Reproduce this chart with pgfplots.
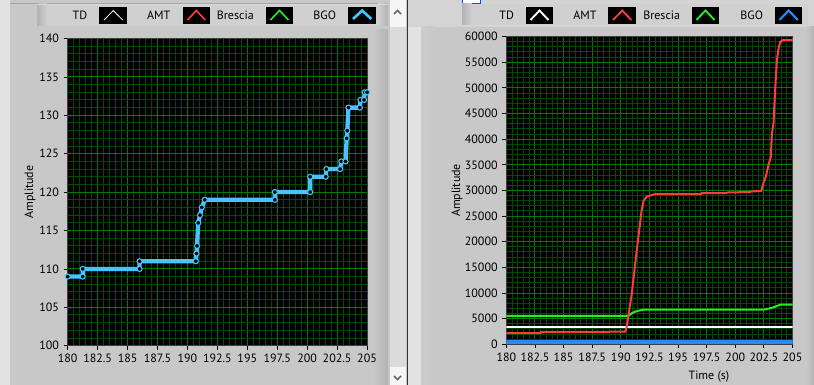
\documentclass[border=0pt]{standalone}
\usepackage{fontspec}
\setmainfont{PT Sans}
\usepackage{pgfplots}
\pgfplotsset{compat=1.18}
\definecolor{panel}{RGB}{200,200,200}
\definecolor{lightp}{RGB}{226,226,226}
\definecolor{legbg}{RGB}{208,208,208}
\definecolor{gmaj}{RGB}{0,125,0}
\definecolor{gmin}{RGB}{0,75,0}
\definecolor{bgoL}{RGB}{70,196,255}
\definecolor{bgoR}{RGB}{35,140,245}
\definecolor{amt}{RGB}{255,60,60}
\definecolor{bre}{RGB}{40,235,40}
\newcommand\fs{\fontsize{9}{10}\selectfont}
\pgfplotsset{lv/.style={
  scale only axis,
  axis background/.style={fill=black},
  grid=both,
  grid style={draw=gmin,line width=0.75pt},
  minor grid style={draw=gmin,line width=0.75pt},
  major grid style={draw=gmaj,line width=0.75pt},
  minor x tick num=4, minor y tick num=4,
  xmin=180, xmax=205,
  xtick={180,182.5,185,187.5,190,192.5,195,197.5,200,202.5,205},
  axis line style={draw=black!75},
  tick align=outside, tick pos=left,
  major tick length=3pt, minor tick length=0pt,
  tick style={black,line width=0.6pt},
  every tick label/.append style={font=\fs},
  /pgf/number format/assume math mode=true,
  label style={font=\fs},
  scaled ticks=false,
  yticklabel style={/pgf/number format/fixed,/pgf/number format/1000 sep={}},
  xticklabel style={/pgf/number format/fixed,/pgf/number format/1000 sep={}},
  clip=true,
}}
\begin{document}
\begin{tikzpicture}
\useasboundingbox (0,0) rectangle (610.5pt,-288.75pt);
\begin{scope}[x=0.75pt,y=-0.75pt]
 \fill[panel] (0,0) rectangle (814,385);
 % left panel decorations
 \fill[lightp] (0,0) rectangle (10,385);
 \fill[black!35] (10,3) rectangle (388,4);
 \fill[left color=panel,right color=black!30] (374,30) rectangle (388,385);
 % legend left
 \fill[legbg] (37,4) rectangle (388,26);
 \fill[left color=black!30,right color=legbg] (37,4) rectangle (47,26);
 \fill[left color=legbg,right color=black!30] (378,4) rectangle (388,26);
 \draw[white!85!black] (37,4) -- (388,4);
 \node[font=\fs] at (80,15) {TD};
 \fill[black] (99.3,6.7) rectangle (127.3,24);
 \draw[white,line width=0.6pt] (104,20) -- (113.3,10.5) -- (122.6,20);
 \node[font=\fs] at (158.8,15) {AMT};
 \fill[black] (182.7,6.7) rectangle (210,24);
 \draw[amt,line width=1.2pt] (187.5,20) -- (196.3,10.5) -- (205.2,20);
 \node[font=\fs] at (235.3,15) {Brescia};
 \fill[black] (265.7,6.7) rectangle (293.3,24);
 \draw[bre,line width=1.2pt] (270.5,20) -- (279.5,10.5) -- (288.5,20);
 \node[font=\fs] at (324.7,15) {BGO};
 \fill[black] (348.3,6.7) rectangle (376,24);
 \draw[bgoL,line width=2pt] (353,19) -- (362.2,10.5) -- (371.3,19);
 % scrollbar
 \fill[black!4] (390,0) rectangle (406,27);
 \fill[black!14] (390,27) rectangle (406,367);
 \fill[black!4] (390,367) rectangle (406,385);
 \draw[black!60,line width=1.2pt] (394,14) -- (397.5,10.5) -- (401,14);
 \draw[black!60,line width=1.2pt] (394,376) -- (397.5,379.5) -- (401,376);
 \fill[black!80] (406.5,0) rectangle (408.3,385);
 % right panel decorations
 \fill[lightp] (408.3,0) rectangle (421,385);
 \fill[black!17] (408.3,0) rectangle (814,27);
 \fill[white] (462,0) rectangle (480,3);
 \draw[blue!70!cyan,line width=0.6pt] (462,-1) -- (462,3) -- (480,3) -- (480,-1);
 \fill[left color=black!20,right color=panel] (421,27) rectangle (434,385);
 \fill[left color=panel,right color=black!30] (806,27) rectangle (814,385);
 % legend right
 \fill[legbg] (462,4) rectangle (808,25);
 \fill[left color=black!30,right color=legbg] (462,4) rectangle (472,25);
 \node[font=\fs] at (506.7,15) {TD};
 \fill[black] (525.7,6.7) rectangle (553.3,24);
 \draw[white,line width=1.4pt] (530.5,20) -- (539.5,10.5) -- (548.5,20);
 \node[font=\fs] at (585,15) {AMT};
 \fill[black] (608.3,6.7) rectangle (636,24);
 \draw[amt,line width=1.4pt] (613,20) -- (622.2,10.5) -- (631.3,20);
 \node[font=\fs] at (661.7,15) {Brescia};
 \fill[black] (691.7,6.7) rectangle (719.3,24);
 \draw[bre,line width=1.4pt] (696.5,20) -- (705.5,10.5) -- (714.5,20);
 \node[font=\fs] at (751.7,15) {BGO};
 \fill[black] (775,6.7) rectangle (802.3,24);
 \draw[bgoR,line width=1.6pt] (779.5,20) -- (788.7,10.5) -- (797.8,20);
\end{scope}

% ---------------- left graph ----------------
\begin{axis}[lv,
  at={(50.78pt,-259.28pt)}, anchor=south west,
  width=224.5pt, height=230.4pt,
  ymin=100, ymax=140, ytick={100,105,...,140},
  ylabel={Amplitude},
  ylabel style={at={(axis description cs:-0.126,0.5)},anchor=center},
]
\addplot[bgoL,line width=3.2pt,mark=*,mark size=1.9pt,
  mark options={fill=black,draw=bgoL,line width=0.8pt}] coordinates {
(180,109) (181.25,109) (181.25,110) (186.0,110) (186.0,111) (190.7,111)
(190.75,112) (190.8,113) (190.9,116) (191.05,117) (191.2,118) (191.45,119) (197.3,119)
(197.3,120) (200.25,120) (200.25,122) (201.55,122) (201.6,123) (202.75,123)
(202.85,124) (203.2,124) (203.3,127) (203.35,128) (203.45,131) (204.4,131)
(204.45,132) (204.75,132) (204.8,133) (205,133)};
\end{axis}

% ---------------- right graph ----------------
\begin{axis}[lv,
  at={(379.73pt,-258.23pt)}, anchor=south west,
  width=214.65pt, height=230.78pt,
  ymin=0, ymax=60000, ytick={0,5000,...,60000},
  ylabel={Amplitude},
  ylabel style={at={(axis description cs:-0.172,0.5)},anchor=center},
  xlabel={Time (s)},
  xlabel style={at={(axis description cs:0.708,-0.105)},anchor=center},
]
\addplot[white,line width=1.4pt] coordinates {(180,3300) (205,3300)};
\addplot[bre,line width=1.5pt] coordinates {
(180,5550) (190.66,5550) (190.96,6040) (191.25,6360) (191.54,6550) (191.98,6750)
(202.47,6750) (203.05,7020) (203.49,7330) (203.92,7720) (205,7720)};
\addplot[amt,line width=1.5pt] coordinates {
(180,2200) (183.0,2200) (183.0,2400) (190.38,2460) (190.52,3400) (190.96,9940)
(191.4,18400) (191.83,26300) (192.0,28000) (192.27,28800) (192.55,29000) (193,29300)
(197,29300) (197.1,29500) (199.2,29500) (199.3,29600) (201.3,29700) (201.4,29800)
(202.26,29900) (202.47,31500) (202.67,32700) (202.9,35000) (203.11,36600)
(203.2,41100) (203.34,43100) (203.4,46000) (203.55,52200) (203.64,55400)
(203.78,57700) (203.93,59000) (204.16,59300) (205,59300)};
\addplot[bgoR,line width=2.8pt] coordinates {(180,380) (205,380)};
\end{axis}
\end{tikzpicture}
\end{document}
